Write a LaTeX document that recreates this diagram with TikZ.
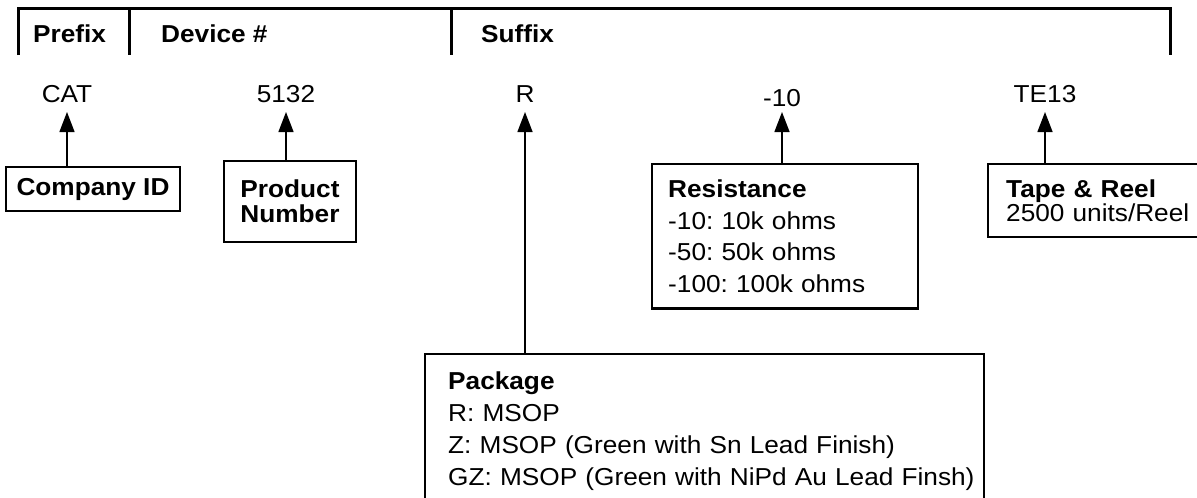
\documentclass[tikz,border=0pt]{standalone}
\usepackage{fontspec}
\setmainfont{Liberation Sans}[FakeStretch=1.07]
\usepackage{tikz}
\usetikzlibrary{positioning, arrows.meta, calc}
\newcommand{\partfont}{\fontsize{24.5}{31.5}\selectfont\frenchspacing}

\begin{document}
\begin{tikzpicture}[x=1pt, y=-1pt,
    codelabel/.style={font=\partfont, inner sep=9pt, anchor=south},
    headtext/.style={font=\partfont\bfseries, inner sep=0pt, anchor=base west},
    partbox/.style={draw, line width=2.4pt, inner xsep=16pt, inner ysep=16pt, anchor=north west, align=left},
    namebox/.style={draw, line width=2.4pt, font=\partfont\bfseries, inner sep=0pt, align=center},
    pointer/.style={line width=1.4pt, -{Triangle[length=20pt, width=15pt]}}]
  \useasboundingbox (0,0) rectangle (1197,498);

  % header bar
  \draw[line width=3pt] (18,55) -- (18,8.5) -- (1170,8.5) -- (1170,55);
  \draw[line width=3pt] (129.5,8.5) -- (129.5,55) (451,8.5) -- (451,55);
  \node[headtext] (prefix) at (33,42) {Prefix};
  \node[headtext] (device) at (161,42) {Device \#};
  \node[headtext] (suffix) at (481,42) {Suffix};

  % ordering code
  \node[codelabel] (codecat) at (67,112) {CAT};
  \node[codelabel] (codenum) at (286,112) {5132};
  \node[codelabel] (codepkg) at (525,112) {R};
  \node[codelabel, inner sep=5pt] (coderes) at (782,112) {-10};
  \node[codelabel] (codetape) at (1045,112) {TE13};

  % boxes
  \node[namebox, minimum width=174pt, minimum height=44pt] (company) at (93,189) {Company ID};
  \node[namebox, minimum width=132pt, minimum height=81pt,
        font=\fontsize{24.5}{25}\selectfont\bfseries] (product) at (290,201.5) {Product\\Number};
  \node[partbox, text width=234pt, font=\partfont] (resistance) at (651,163) {%
    \textbf{Resistance}\\
    -10: 10k ohms\\
    -50: 50k ohms\\
    -100: 100k ohms};
  \node[partbox, inner xsep=18pt, inner ysep=15.5pt, text width=192pt,
        font=\fontsize{24.5}{24}\selectfont\frenchspacing] (tapereel) at (987,163) {%
    \textbf{Tape \& Reel}\\
    2500 units/Reel};
  \node[partbox, inner xsep=11pt, inner ysep=18pt, text width=537pt,
        font=\fontsize{24.5}{32}\selectfont\frenchspacing] (package) at (424,353) {%
    \leftskip=12pt \rightskip=-12pt plus 1fil
    \textbf{Package}\\
    R: MSOP\\
    Z: MSOP (Green with Sn Lead Finish)\\
    GZ: MSOP (Green with NiPd Au Lead Finsh)\par};

  % pointers
  \draw[pointer] (company.north -| codecat.south) -- (codecat.south);
  \draw[pointer] (product.north -| codenum.south) -- (codenum.south);
  \draw[pointer] (package.north -| codepkg.south) -- (codepkg.south);
  \draw[pointer] (resistance.north -| coderes.south) -- (coderes.south);
  \draw[pointer] (tapereel.north -| codetape.south) -- (codetape.south);
\end{tikzpicture}
\end{document}
